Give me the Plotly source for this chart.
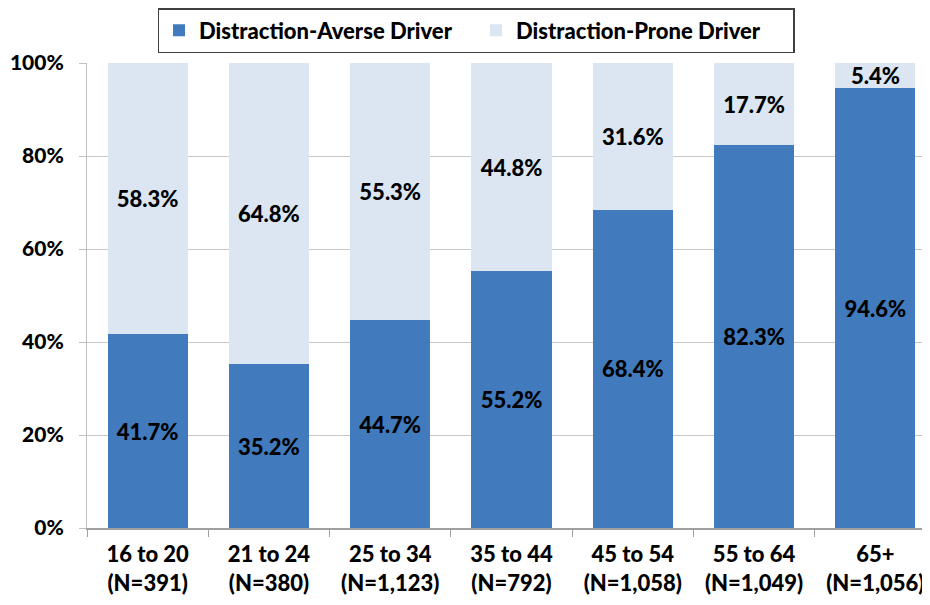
import plotly.graph_objects as go

# age groups and sample sizes
age_groups = ["16 to 20", "21 to 24", "25 to 34", "35 to 44", "45 to 54", "55 to 64", "65+"]
sample_n = ["391", "380", "1,123", "792", "1,058", "1,049", "1,056"]

# shares in percent
averse = [41.7, 35.2, 44.7, 55.2, 68.4, 82.3, 94.6]
prone = [58.3, 64.8, 55.3, 44.8, 31.6, 17.7, 5.4]

cats = [g + "<br>(N=" + n + ")" for g, n in zip(age_groups, sample_n)]

FONT = "Lato, Calibri, 'Open Sans', sans-serif"
SZ = 22
W = 900

fig = go.Figure()
fig.add_trace(go.Bar(
    x=cats, y=averse, name="Distraction-Averse Driver",
    marker=dict(color="#417BBE", line=dict(width=0)),
    texttemplate="%{y:.1f}%", textposition="inside", insidetextanchor="middle",
    textangle=0, textfont=dict(color="black", size=SZ, family=FONT, weight=W),
))
fig.add_trace(go.Bar(
    x=cats, y=prone, name="Distraction-Prone Driver",
    marker=dict(color="#DBE6F2", line=dict(width=0)),
    texttemplate="%{y:.1f}%", textposition="inside", insidetextanchor="middle",
    textangle=0, textfont=dict(color="black", size=SZ, family=FONT, weight=W),
))

# page body has an 8px default margin, so margins are shifted by that
fig.update_layout(
    width=930, height=605,
    barmode="stack", bargap=0.34,
    plot_bgcolor="white", paper_bgcolor="white",
    font=dict(family=FONT, size=SZ, color="black", weight=W),
    margin=dict(l=79, r=2, t=55, b=85, autoexpand=False),
    uniformtext=dict(minsize=SZ, mode="show"),
    legend=dict(
        orientation="h", x=468 / 930, xref="container", xanchor="center",
        y=1.0, yref="container", yanchor="top",
        bordercolor="#404040", borderwidth=1.5,
        font=dict(size=SZ, family=FONT, weight=W),
        traceorder="normal", entrywidth=272, entrywidthmode="pixels",
    ),
    xaxis=dict(
        range=[-0.5, 6.5], tickson="boundaries", ticks="outside", ticklen=7,
        tickcolor="#A0A0A0", showline=True, linecolor="#A0A0A0", linewidth=1.5,
        showgrid=False, tickfont=dict(size=SZ), automargin=False,
        ticklabelstandoff=6,
    ),
    yaxis=dict(
        range=[0, 100], dtick=20, ticksuffix="%", ticks="outside", ticklen=7,
        tickcolor="#C0C0C0", showline=True, linecolor="#C0C0C0", linewidth=1,
        showgrid=True, gridcolor="#C8C8C8", gridwidth=1, zeroline=False,
        tickfont=dict(size=21), automargin=False, ticklabelstandoff=11,
    ),
)

fig.write_html("out.html")
